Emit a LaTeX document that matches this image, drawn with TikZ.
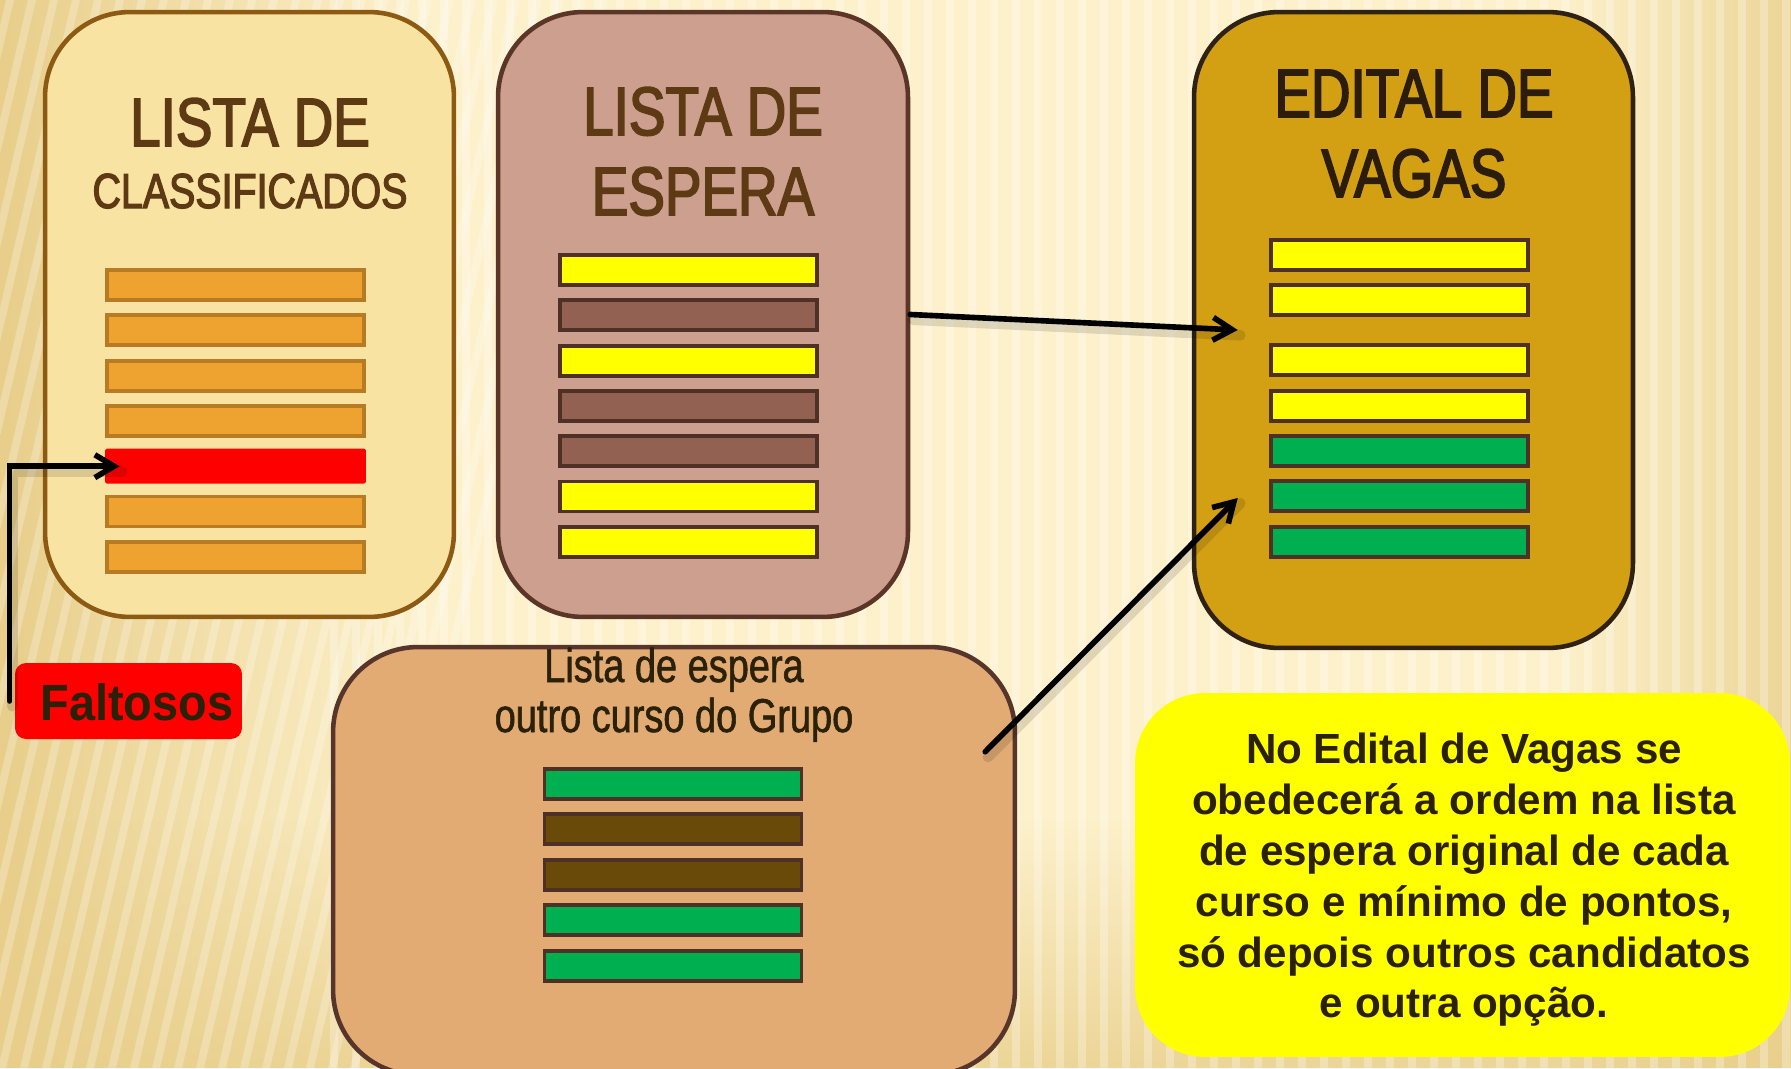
\documentclass[tikz,border=0pt]{standalone}
\usepackage{fontspec}
\setmainfont{Liberation Sans}
\newfontfamily\condfont[FakeStretch=0.8, FakeBold=2.5]{Liberation Sans}
\newfontfamily\subfont[FakeStretch=0.8, FakeBold=1.2]{Liberation Sans}
\newfontfamily\faltfont[FakeStretch=0.92]{Liberation Sans}
\usetikzlibrary{arrows.meta,fadings}
\definecolor{bgC}{HTML}{FDF1CB}
\definecolor{bgL}{HTML}{E8CE8A}
\definecolor{p1fill}{HTML}{F9E3A3}
\definecolor{p1line}{HTML}{8C5A12}
\definecolor{orfill}{HTML}{EEA22F}
\definecolor{orline}{HTML}{B87B24}
\definecolor{p2fill}{HTML}{CC9F8F}
\definecolor{p2line}{HTML}{5B3527}
\definecolor{ylw}{HTML}{FFFF00}
\definecolor{brn}{HTML}{936152}
\definecolor{barline}{HTML}{4F3026}
\definecolor{p3fill}{HTML}{D3A013}
\definecolor{p3line}{HTML}{2F2212}
\definecolor{p4fill}{HTML}{E2AB74}
\definecolor{p4line}{HTML}{57352A}
\definecolor{grn}{HTML}{00AF50}
\definecolor{dkbrn}{HTML}{6A4A08}
\definecolor{ttlA}{HTML}{5E3A14}
\definecolor{ttlB}{HTML}{2B1C0C}
\definecolor{txtD}{HTML}{2B2108}
\definecolor{redc}{HTML}{FF0000}
\begin{document}
\begin{tikzpicture}[x=0.02cm,y=-0.02cm,
  panel/.style={draw, line width=2.6pt, rounded corners=1.7cm, inner sep=0pt},
  bar/.style={draw=barline, line width=2.2pt, minimum width=5.14cm, minimum height=0.6cm, inner sep=0pt},
  obar/.style={bar, draw=orline, fill=orfill},
  ttl/.style={font=\condfont\fontsize{39}{47}\selectfont, text=ttlA, inner sep=0pt, anchor=base},
  sub/.style={font=\subfont\fontsize{27}{32}\selectfont, text=txtD, inner sep=0pt, anchor=base},
  arr/.style={line width=3.2pt, line cap=round, -{Straight Barb[length=11pt,width=13pt,line width=3.2pt]}},
  arrshadow/.style={line width=6pt, black, opacity=0.12, line cap=round, transform canvas={xshift=1.5pt,yshift=-3pt}},
]
\useasboundingbox (0,0) rectangle (1791,1068);
% background
\begin{scope}
\clip (0,0) rectangle (1791,1068);
\fill[bgC] (0,0) rectangle (1791,1068);
\fill[bgL, path fading=east] (0,0) rectangle (420,1068);
\fill[bgL, path fading=north, opacity=0.8] (0,820) rectangle (1791,1068);
\fill[bgL, path fading=west, opacity=0.8] (1560,0) rectangle (1791,1068);
\foreach \x in {330,352,...,1791} \fill[white, opacity=0.28] (\x,0) rectangle (\x+8,1068);
\foreach \x in {-420,-398,...,360} \fill[white, opacity=0.25] (\x,1068) -- (\x+8,1068) -- (\x+258,0) -- (\x+250,0) -- cycle;
\end{scope}

% panels
\node[panel, draw=p1line, fill=p1fill, minimum width=8.18cm, minimum height=12.1cm] (b1) at (249.5,314.5) {};
\node[panel, draw=p2line, fill=p2fill, minimum width=8.2cm, minimum height=12.1cm] (b2) at (703,314.5) {};
\node[panel, draw=p3line, fill=p3fill, minimum width=8.78cm, minimum height=12.72cm] (b3) at (1413.5,330) {};
\node[panel, draw=p4line, fill=p4fill, minimum width=13.64cm, minimum height=8.56cm] (b4) at (674,861) {};

% titles
\node[ttl] (t1a) at (250,146) {LISTA DE};
\node[ttl, font=\condfont\fontsize{28}{34}\selectfont] (t1b) at (250,208) {CLASSIFICADOS};
\node[ttl] (t2a) at (703,135) {LISTA DE};
\node[ttl] (t2b) at (703,215) {ESPERA};
\node[ttl, text=ttlB] (t3a) at (1414,117) {EDITAL DE};
\node[ttl, text=ttlB] (t3b) at (1414,197) {VAGAS};
\node[sub] (t4a) at (674,682) {Lista de espera};
\node[sub] (t4b) at (674,732) {outro curso do Grupo};

% bars panel 1
\node[obar] (c1) at (235.5,285) {};
\node[obar] (c2) at (235.5,330.3) {};
\node[obar] (c3) at (235.5,375.6) {};
\node[obar] (c4) at (235.5,420.9) {};
\node[fill=redc, minimum width=5.22cm, minimum height=0.7cm, inner sep=0pt, rounded corners=1pt] (red) at (235.5,466.2) {};
\node[obar] (c6) at (235.5,511.5) {};
\node[obar] (c7) at (235.5,556.8) {};

% bars panel 2
\node[bar, fill=ylw] (e1) at (688.5,270) {};
\node[bar, fill=brn] (e2) at (688.5,315.3) {};
\node[bar, fill=ylw] (e3) at (688.5,360.6) {};
\node[bar, fill=brn] (e4) at (688.5,405.9) {};
\node[bar, fill=brn] (e5) at (688.5,451.2) {};
\node[bar, fill=ylw] (e6) at (688.5,496.5) {};
\node[bar, fill=ylw] (e7) at (688.5,541.8) {};

% bars panel 3
\node[bar, fill=ylw] (v1) at (1399.5,255) {};
\node[bar, fill=ylw] (v2) at (1399.5,300) {};
\node[bar, fill=ylw] (v3) at (1399.5,360) {};
\node[bar, fill=ylw] (v4) at (1399.5,406) {};
\node[bar, fill=grn] (v5) at (1399.5,451) {};
\node[bar, fill=grn] (v6) at (1399.5,496) {};
\node[bar, fill=grn] (v7) at (1399.5,542) {};

% bars panel 4
\node[bar, fill=grn] (g1) at (673,784) {};
\node[bar, fill=dkbrn] (g2) at (673,829) {};
\node[bar, fill=dkbrn] (g3) at (673,875) {};
\node[bar, fill=grn] (g4) at (673,920) {};
\node[bar, fill=grn] (g5) at (673,966) {};

% note
\node[fill=ylw, rounded corners=1.4cm, minimum width=13.1cm, minimum height=7.28cm, inner sep=0pt] (note) at (1462.5,875) {};
\node[font=\bfseries\fontsize{24}{28.9}\selectfont, text=txtD, align=center, inner sep=0pt] (notet) at (1464,880)
 {No Edital de Vagas se\\obedecerá a ordem na lista\\de espera original de cada\\curso e mínimo de pontos,\\só depois outros candidatos\\e outra opção.};

% faltosos
\node[fill=redc, rounded corners=0.22cm, minimum width=4.54cm, minimum height=1.52cm, inner sep=0pt] (falt) at (128.5,701) {};
\node[font=\faltfont\bfseries\fontsize{29}{34}\selectfont, text=txtD, inner sep=0pt, anchor=base] (faltt) at (137,720) {Faltosos};

% connectors (soft shadows first)
\draw[arrshadow] ([xshift=-0.1cm]falt.west) |- ([xshift=0.3cm]red.west);
\draw[arrshadow] (b2.east) -- ([xshift=0.92cm]b3.west);
\draw[arrshadow] ([xshift=-0.64cm,yshift=-2.14cm]b4.north east) -- ([xshift=0.92cm,yshift=-3.36cm]b3.west);
\draw[arr] ([xshift=-0.1cm]falt.west) |- ([xshift=0.3cm]red.west);
\draw[arr] (b2.east) -- ([xshift=0.92cm]b3.west);
\draw[arr] ([xshift=-0.64cm,yshift=-2.14cm]b4.north east) -- ([xshift=0.92cm,yshift=-3.36cm]b3.west);
\end{tikzpicture}
\end{document}
